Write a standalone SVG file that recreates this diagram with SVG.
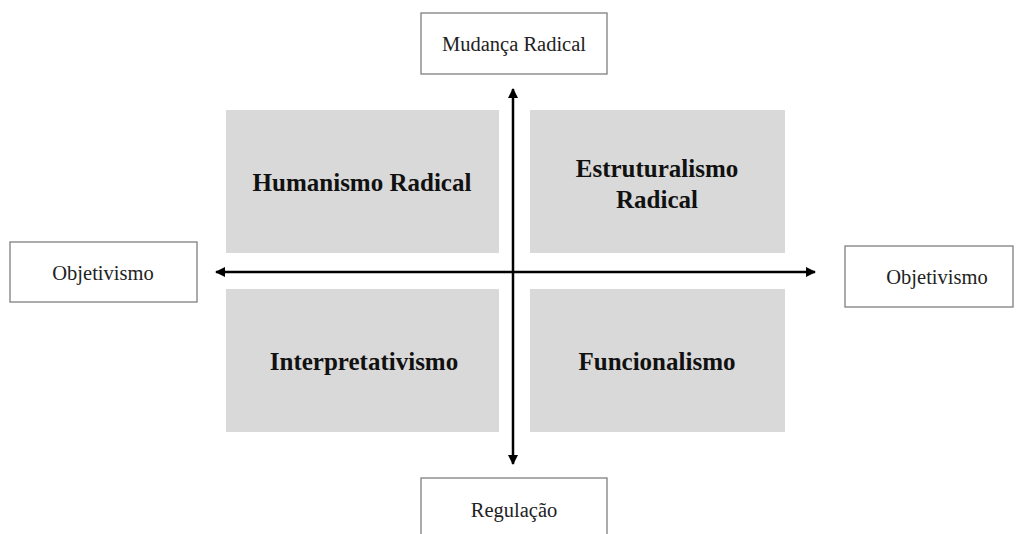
<svg xmlns="http://www.w3.org/2000/svg" width="1018" height="534" viewBox="0 0 1018 534">
<style>
.lbl{fill:#fff;stroke:#7f7f7f;stroke-width:1.3}
.q{fill:#d9d9d9}
.t{font-family:"Liberation Serif","Times New Roman",serif;font-size:20.5px;fill:#222;text-anchor:middle}
.b{font-family:"Liberation Serif","Times New Roman",serif;font-size:25px;font-weight:bold;fill:#111;text-anchor:middle}
.ax{stroke:#000;stroke-width:2.5;fill:none;marker-end:url(#ah)}
</style>
<defs>
<marker id="ah" viewBox="0 0 10 10" refX="9" refY="5" markerWidth="4.4" markerHeight="4" markerUnits="strokeWidth" orient="auto">
<path d="M0,0 L10,5 L0,10 z" fill="#000"/>
</marker>
</defs>
<rect width="1018" height="534" fill="#fff"/>
<g id="q-humanismo"><rect class="q" x="226" y="110" width="273" height="143"/><text class="b" x="362" y="191">Humanismo Radical</text></g>
<g id="q-estruturalismo"><rect class="q" x="530" y="110" width="255" height="143"/><text class="b" x="657" y="177">Estruturalismo</text><text class="b" x="657" y="208">Radical</text></g>
<g id="q-interpretativismo"><rect class="q" x="226" y="289" width="273" height="143"/><text class="b" x="364" y="370">Interpretativismo</text></g>
<g id="q-funcionalismo"><rect class="q" x="530" y="289" width="255" height="143"/><text class="b" x="657" y="370">Funcionalismo</text></g>
<g id="connectors">
<line class="ax" x1="513" y1="272" x2="513" y2="89"/>
<line class="ax" x1="513" y1="272" x2="513" y2="464"/>
<line class="ax" x1="514" y1="272" x2="216" y2="272"/>
<line class="ax" x1="512" y1="272" x2="815" y2="272"/>
</g>
<g id="n-mudanca"><rect class="lbl" x="421" y="13" width="186" height="61"/><text class="t" x="514" y="51">Mudança Radical</text></g>
<g id="n-obj-left"><rect class="lbl" x="10" y="242" width="187" height="60"/><text class="t" x="103" y="280">Objetivismo</text></g>
<g id="n-obj-right"><rect class="lbl" x="845" y="246" width="168" height="61"/><text class="t" x="937" y="284">Objetivismo</text></g>
<g id="n-regulacao"><rect class="lbl" x="421" y="478" width="186" height="70"/><text class="t" x="514" y="517">Regulação</text></g>
</svg>
